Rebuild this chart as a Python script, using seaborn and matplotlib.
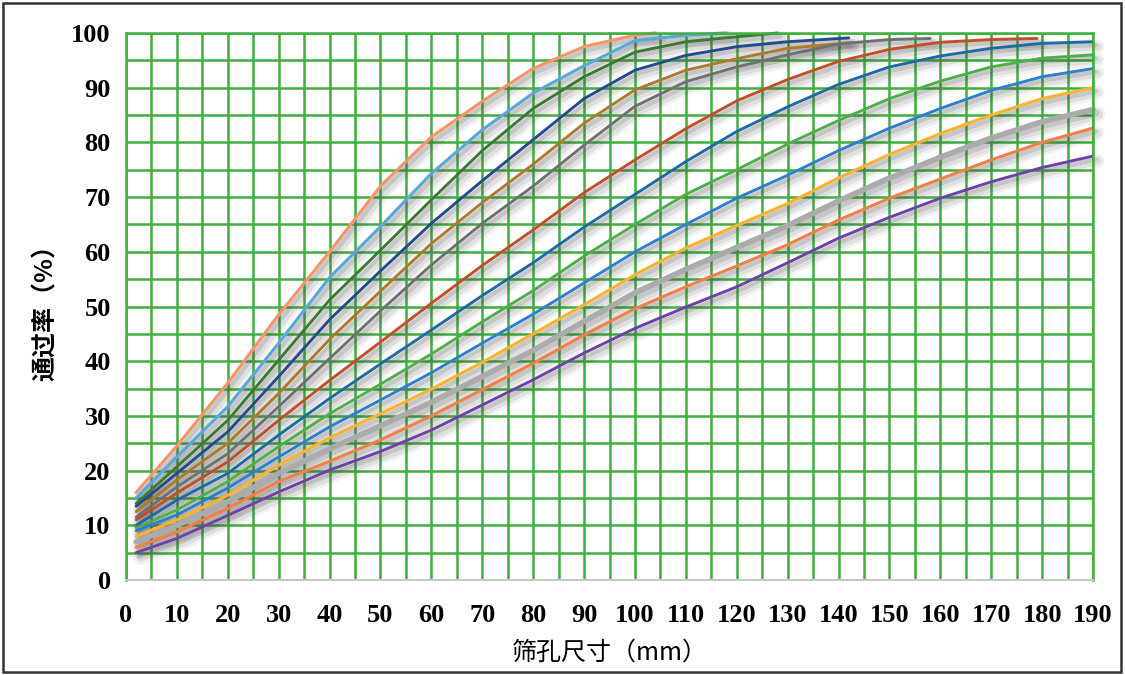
import numpy as np
import pandas as pd
import matplotlib
matplotlib.use("Agg")
import matplotlib.pyplot as plt
import matplotlib.patheffects as pe
from matplotlib.ticker import MultipleLocator
from matplotlib.patches import Rectangle
import seaborn as sns

# ---------------- data ----------------
x_full = [2, 10, 20, 30, 40, 50, 60, 70, 80, 90, 100, 110, 120, 130, 140, 150, 160, 170, 180, 190]

x_s1 = [2, 10, 20, 30, 40, 50, 60, 70, 80, 90, 100, 104]
y_s1 = [16, 24.5, 36, 48.5, 60, 72, 81, 87.5, 93.5, 97.5, 99.6, 100]

x_s2 = [2, 10, 20, 30, 40, 50, 60, 70, 80, 90, 100, 110, 118]
y_s2 = [15, 22.5, 31.7, 43.3, 55.3, 64.6, 74.3, 82.3, 89, 94, 98.6, 99.6, 100]

x_s3 = [2, 10, 20, 30, 40, 50, 60, 70, 80, 90, 100, 110, 120, 128]
y_s3 = [14, 20.7, 29.2, 40.2, 51.2, 60.3, 69.5, 78.5, 86.2, 92, 96.5, 98.4, 99.3, 100]

x_s4 = [2, 10, 20, 30, 40, 50, 60, 70, 80, 90, 100, 110, 120, 130, 142]
y_s4 = [13.5, 19.5, 27.1, 37.2, 47.6, 56.5, 65.2, 73, 80.5, 88, 93.2, 95.9, 97.5, 98.4, 99.1]

x_s5 = [2, 10, 20, 30, 40, 50, 60, 70, 80, 90, 100, 110, 120, 130, 142]
y_s5 = [12.5, 18.3, 25, 34.1, 44, 52.8, 61.5, 69, 76, 83.5, 89.6, 93.2, 95.3, 97.2, 98.2]

x_s6 = [2, 10, 20, 30, 40, 50, 60, 70, 80, 90, 100, 110, 120, 130, 140, 150, 158]
y_s6 = [11.5, 17, 23.1, 31.7, 40.5, 49.2, 57.6, 65.2, 72, 79.5, 86.6, 91.1, 93.8, 96, 98, 98.8, 99]

x_s7 = [2, 10, 20, 30, 40, 50, 60, 70, 80, 90, 100, 110, 120, 130, 140, 150, 160, 170, 179]
y_s7 = [11, 15.9, 21.6, 29.2, 36.5, 43.5, 50.6, 57.5, 64, 70.8, 76.8, 82.5, 87.6, 91.5, 94.8, 97, 98.3, 98.8, 99]

y_s8 = [10, 14.6, 19.5, 26.5, 33.2, 39.5, 45.7, 52, 58, 64.5, 70.5, 76.5, 82, 86.5, 90.6, 93.8, 95.8, 97.2, 98.1, 98.4]
y_s9 = [9.5, 12.8, 18, 24.4, 30.4, 35.8, 41.3, 47.2, 52.9, 59.2, 65, 70.5, 75, 79.7, 84, 88, 91.2, 93.8, 95.4, 96]
y_s10 = [9, 11.9, 16.8, 22.5, 28, 32.9, 37.9, 43.3, 48.6, 54.3, 60, 65, 69.8, 74, 78.5, 82.6, 86.2, 89.5, 92, 93.5]
y_s11 = [8, 11, 15.5, 21, 26, 30.4, 34.9, 39.8, 45, 50.3, 55.8, 60.7, 64.8, 68.8, 73.5, 77.8, 81.6, 85, 88, 90]
y_s12 = [7, 10, 14.3, 19.5, 24, 28.2, 32.5, 37.2, 42, 47.3, 52.5, 56.8, 60.8, 64.8, 69.3, 73.5, 77.3, 80.8, 83.8, 86]
y_s13 = [6, 8.8, 13.1, 18, 21.7, 25.6, 30, 34.8, 39.6, 44.8, 49.6, 53.6, 57.4, 61.3, 65.8, 69.8, 73.3, 76.8, 80, 82.6]
y_s14 = [5, 7.6, 11.8, 16.1, 20.1, 23.5, 27.4, 32, 36.6, 41.5, 46, 49.9, 53.6, 58, 62.5, 66.3, 69.8, 72.8, 75.4, 77.5]

series_x = [x_s1, x_s2, x_s3, x_s4, x_s5, x_s6, x_s7,
            x_full, x_full, x_full, x_full, x_full, x_full, x_full]
series_y = [y_s1, y_s2, y_s3, y_s4, y_s5, y_s6, y_s7,
            y_s8, y_s9, y_s10, y_s11, y_s12, y_s13, y_s14]
series_names = [f"S{i}" for i in range(1, 15)]
colors = ["#F4956A", "#5BA8D8", "#3C7A34", "#264A8C", "#B0782E", "#707070",
          "#C0502A", "#1F6AA5", "#4CAF48", "#2F7FCF", "#F9B233", "#ABABAB",
          "#F0804A", "#7040A8"]
widths = [2.3, 2.3, 2.1, 2.1, 2.1, 2.1, 2.1, 2.1, 2.1, 2.1, 2.3, 4.0, 2.3, 2.1]

x_ticks = list(range(0, 191, 10))
y_ticks = list(range(0, 101, 10))
xlabel = "筛孔尺寸（mm）"
ylabel = "通过率（%）"

# ---------------- build table ----------------
rows = []
for name, xs, ys in zip(series_names, series_x, series_y):
    for xv, yv in zip(xs, ys):
        rows.append((name, xv, yv))
df = pd.DataFrame(rows, columns=["series", "size", "pass"])

# ---------------- plot ----------------
sns.set_theme(style="white")
plt.rcParams["font.family"] = ["Liberation Serif", "Noto Sans CJK SC", "DejaVu Sans"]

fig = plt.figure(figsize=(11.25, 6.75), dpi=100)
ax = fig.add_axes([0.112, 0.1407, 0.8596, 0.8104])

grid_c = "#3FAF3F"
ax.set_xlim(0, 190)
ax.set_ylim(0, 100)
ax.xaxis.set_major_locator(MultipleLocator(10))
ax.xaxis.set_minor_locator(MultipleLocator(5))
ax.yaxis.set_major_locator(MultipleLocator(10))
ax.yaxis.set_minor_locator(MultipleLocator(5))
ax.grid(which="both", color=grid_c, linewidth=1.8, zorder=0)
ax.set_axisbelow(True)

sns.lineplot(data=df, x="size", y="pass", hue="series", palette=colors,
             hue_order=series_names, estimator=None, sort=False,
             legend=False, ax=ax)

for line, lw in zip(ax.lines, widths):
    line.set_linewidth(lw)
    line.set_solid_capstyle("round")
    line.set_solid_joinstyle("round")
    line.set_clip_on(False)
    line.set_path_effects([
        pe.SimpleLineShadow(offset=(3, -3.5), shadow_color="#444444", alpha=0.07, rho=1, linewidth=lw + 8),
        pe.SimpleLineShadow(offset=(3, -3.5), shadow_color="#444444", alpha=0.10, rho=1, linewidth=lw + 4),
        pe.SimpleLineShadow(offset=(2, -2.5), shadow_color="#444444", alpha=0.16, rho=1, linewidth=lw + 1),
        pe.Normal(),
    ])

for side in ["left", "top", "right"]:
    ax.spines[side].set_color(grid_c)
    ax.spines[side].set_linewidth(1.8)
ax.spines["bottom"].set_color("#C8C8C8")
ax.spines["bottom"].set_linewidth(1.5)

ax.set_xticks(x_ticks)
ax.set_yticks(y_ticks)
ax.tick_params(axis="both", which="both", length=0)
ax.tick_params(axis="x", pad=17)
ax.tick_params(axis="y", pad=11)
for lab in ax.get_xticklabels() + ax.get_yticklabels():
    lab.set_fontweight("bold")
    lab.set_fontsize(19)
    lab.set_color("#000000")
    lab.set_family(["Liberation Serif"])

ax.set_xlabel(xlabel, fontsize=18, color="#000000", labelpad=9,
              family=["Noto Sans CJK SC", "Liberation Serif"])
ax.set_ylabel(ylabel, fontsize=18, color="#000000", labelpad=10, fontweight="bold",
              family=["Noto Sans CJK SC", "Liberation Serif"])

fig.patches.append(Rectangle((0.003, 0.004), 0.993, 0.992, transform=fig.transFigure,
                             fill=False, edgecolor="#333333", linewidth=1.8))

fig.savefig("out.png", dpi=100)
